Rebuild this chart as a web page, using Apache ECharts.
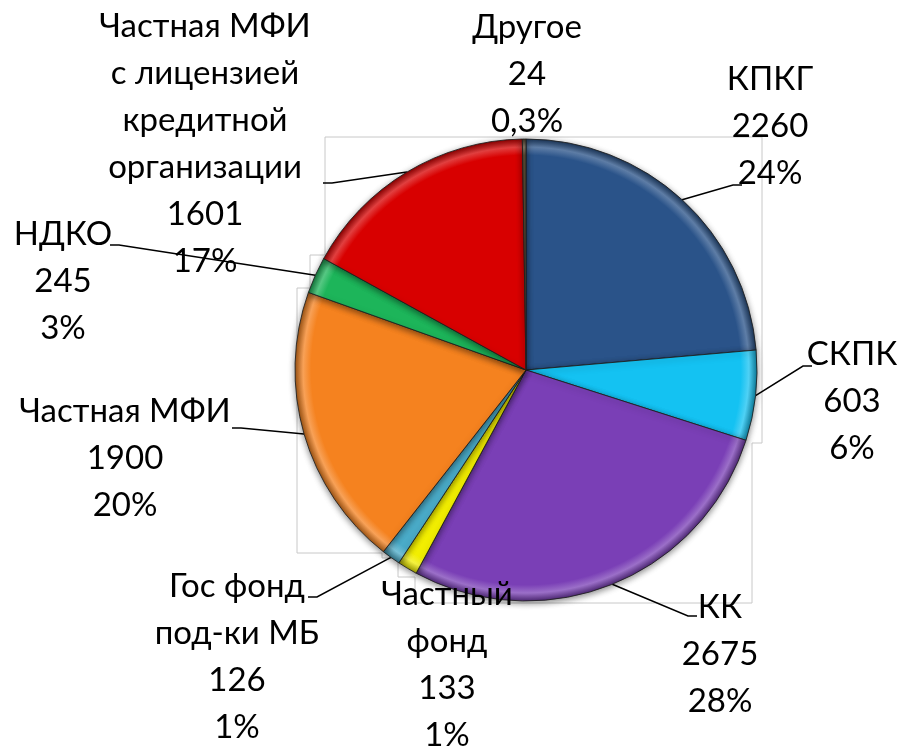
<!DOCTYPE html>
<html><head><meta charset="utf-8">
<script src="https://cdn.jsdelivr.net/npm/echarts@6/dist/echarts.min.js"></script>
<style>html,body{margin:0;padding:0;background:#fff}#c{width:906px;height:750px}</style>
</head><body><div id="c"></div>
<script>
const categories = ['КПКГ','СКПК','КК','Частный\nфонд','Гос фонд\nпод-ки МБ','Частная МФИ','НДКО','Частная МФИ\nс лицензией\nкредитной\nорганизации','Другое'];
const values = [2260, 603, 2675, 133, 126, 1900, 245, 1601, 24];
const colors = ['#2a5389','#14c2f2','#7a3fb6','#f2ee00','#4aabc8','#f5821f','#1db55a','#d80000','#5a4a32'];
const showLine = [true,true,true,false,true,true,true,true,false];
// label block anchor (top-center) and leader line end, in px
const labelPos = [[770,56],[852,331],[720,584],[447,571],[237,563],[125,388],[63,211],[205,3],[527,4]];
const lineEnds = [[742,185],[812,366],[697,616],null,[308,597],[232,428],[110,245],[323,183],null];

const CX = 526, CY = 370, R = 231;
const total = values.reduce((a,b)=>a+b,0);
function pctText(v){
  const p = v/total*100;
  if (p < 1) return p.toFixed(1).replace('.', ',') + '%';
  return Math.round(p) + '%';
}
function shade(hex, f){
  const n = parseInt(hex.slice(1),16);
  let r=(n>>16)&255,g=(n>>8)&255,b=n&255;
  if (f>0){ r+= (255-r)*f; g+=(255-g)*f; b+=(255-b)*f; }
  else { r*=1+f; g*=1+f; b*=1+f; }
  return 'rgb('+Math.round(r)+','+Math.round(g)+','+Math.round(b)+')';
}
const data = values.map((v,i)=>({
  name: categories[i], value: v,
  labelLine: {show: showLine[i]},
  itemStyle: {
    color: {type:'radial', x: CX, y: CY, r: R, global: true, colorStops: [
      {offset:0, color: colors[i]},
      {offset:0.93, color: colors[i]},
      {offset:0.965, color: shade(colors[i], 0.25)},
      {offset:1, color: shade(colors[i], -0.35)}
    ]}
  }
}));

const chart = echarts.init(document.getElementById('c'));
chart.setOption({
  animation: false,
  backgroundColor: '#fff',
  graphic: [{
    type: 'polygon', z: -10, silent: true,
    shape: {points: [[325,137],[762,137],[762,443],[752,443],[752,603],[415,603],[415,577],[398,577],[398,558],[382,558],[382,553],[297,553],[297,288],[310,288],[310,255],[325,255]]},
    style: {fill: 'none', stroke: '#c8c8c8', lineWidth: 1}
  }],
  series: [{
    type: 'pie',
    center: [CX, CY],
    radius: [0, R],
    startAngle: 90,
    clockwise: true,
    avoidLabelOverlap: false,
    data: data,
    itemStyle: {borderColor: 'rgba(30,30,30,0.85)', borderWidth: 1, shadowBlur: 6, shadowColor: 'rgba(0,0,0,0.45)', shadowOffsetY: 2},
    emphasis: {disabled: true},
    label: {
      show: true, position: 'outside',
      fontFamily: 'Lato', fontSize: 33, lineHeight: 47, color: '#000',
      formatter: p => p.name + '\n' + p.value + '\n' + pctText(p.value)
    },
    labelLine: {show: true, length: 10, length2: 10, lineStyle: {color: '#000', width: 1.5}},
    labelLayout: function(params){
      const i = params.dataIndex;
      const res = {x: labelPos[i][0], y: labelPos[i][1], align: 'center', verticalAlign: 'top'};
      if (lineEnds[i] && params.labelLinePoints) {
        const s = params.labelLinePoints[0];
        const e = lineEnds[i];
        const dir = e[0] > s[0] ? -1 : 1;
        res.labelLinePoints = [s, [e[0] + dir*9, e[1]], e];
      }
      return res;
    }
  }]
});
</script></body></html>
